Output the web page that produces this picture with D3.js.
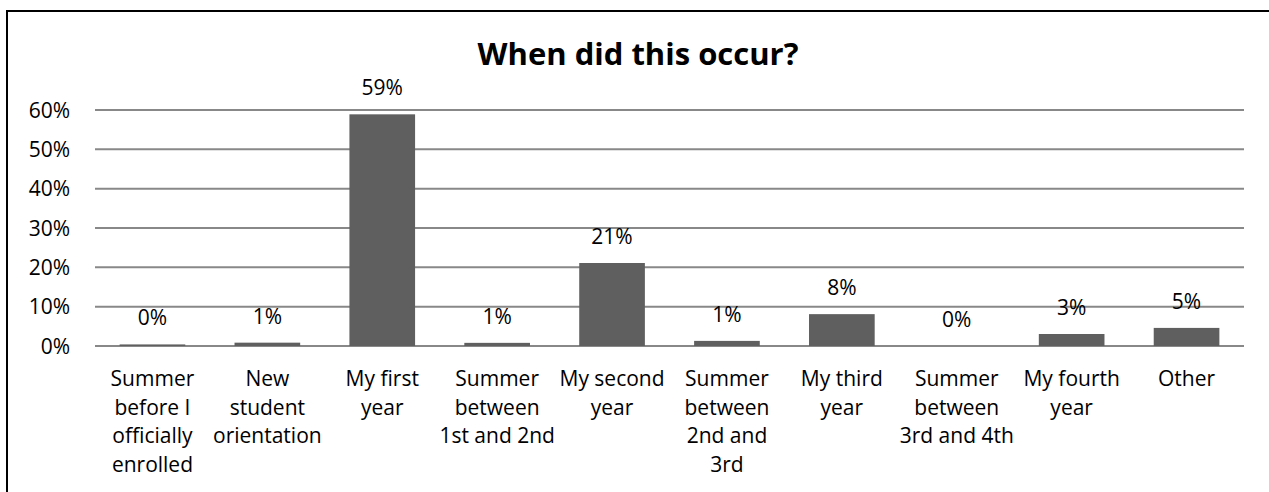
<!DOCTYPE html>
<html>
<head>
<meta charset="utf-8">
<script src="https://cdn.jsdelivr.net/npm/d3@7"></script>
<style>
  body { margin: 0; background: #fff; }
  svg { display: block; font-family: "Open Sans", sans-serif; }
</style>
</head>
<body>
<div id="chart"></div>
<script>
// categories, one entry per line of the wrapped axis label
var categories = [
    ["Summer", "before I", "officially", "enrolled"],
    ["New", "student", "orientation"],
    ["My first", "year"],
    ["Summer", "between", "1st and 2nd"],
    ["My second", "year"],
    ["Summer", "between", "2nd and", "3rd"],
    ["My third", "year"],
    ["Summer", "between", "3rd and 4th"],
    ["My fourth", "year"],
    ["Other"]
];
// percent of respondents
var values = [0.4, 0.85, 58.9, 0.8, 21.1, 1.3, 8.1, 0, 3.05, 4.6];
var yTicks = [0, 10, 20, 30, 40, 50, 60];
var title = "When did this occur?";

var width = 1269, height = 492;

var svg = d3.select("#chart").append("svg")
    .attr("width", width)
    .attr("height", height);

// frame round the chart (runs off the right and bottom edges)
svg.append("rect")
    .attr("x", 7).attr("y", 11)
    .attr("width", 1400).attr("height", 600)
    .attr("fill", "none")
    .attr("stroke", "#000")
    .attr("stroke-width", 2);

svg.append("text")
    .attr("x", 638).attr("y", 65)
    .attr("text-anchor", "middle")
    .attr("font-size", 31)
    .attr("font-weight", "bold")
    .attr("fill", "#000")
    .text(title);

var x = d3.scaleBand()
    .domain(d3.range(categories.length))
    .range([95, 1244])
    .paddingInner(0.75 / 1.75)
    .paddingOuter(0.75 / 1.75 / 2);

var y = d3.scaleLinear()
    .domain([0, 60])
    .range([346, 110]);

// gridlines
svg.append("g")
    .selectAll("line")
    .data(yTicks)
    .enter()
    .append("line")
    .attr("x1", 95).attr("x2", 1244)
    .attr("y1", d => y(d)).attr("y2", d => y(d))
    .attr("stroke", "#888")
    .attr("stroke-width", 2);

// y tick labels
svg.append("g")
    .selectAll("text")
    .data(yTicks)
    .enter()
    .append("text")
    .attr("x", 70)
    .attr("y", d => y(d) + 7.5)
    .attr("text-anchor", "end")
    .attr("font-size", 21)
    .attr("fill", "#000")
    .text(d => d + "%");

// bars
svg.append("g")
    .selectAll("rect")
    .data(values)
    .enter()
    .append("rect")
    .attr("x", (d, i) => x(i))
    .attr("width", x.bandwidth())
    .attr("y", d => y(d))
    .attr("height", d => y(0) - y(d))
    .attr("fill", "#5f5f5f");

// data labels
svg.append("g")
    .selectAll("text")
    .data(values)
    .enter()
    .append("text")
    .attr("x", (d, i) => x(i) + x.bandwidth() / 2)
    .attr("y", d => y(d) - 19)
    .attr("text-anchor", "middle")
    .attr("font-size", 21)
    .attr("fill", "#000")
    .text(d => Math.round(d) + "%");

// x axis labels
var xl = svg.append("g")
    .selectAll("text")
    .data(categories)
    .enter()
    .append("text")
    .attr("text-anchor", "middle")
    .attr("font-size", 21)
    .attr("fill", "#000");

xl.selectAll("tspan")
    .data((d, i) => d.map(s => ({ s: s, i: i })))
    .enter()
    .append("tspan")
    .attr("x", d => x(d.i) + x.bandwidth() / 2)
    .attr("y", (d, j) => 386 + j * 28.7)
    .text(d => d.s);
</script>
</body>
</html>
